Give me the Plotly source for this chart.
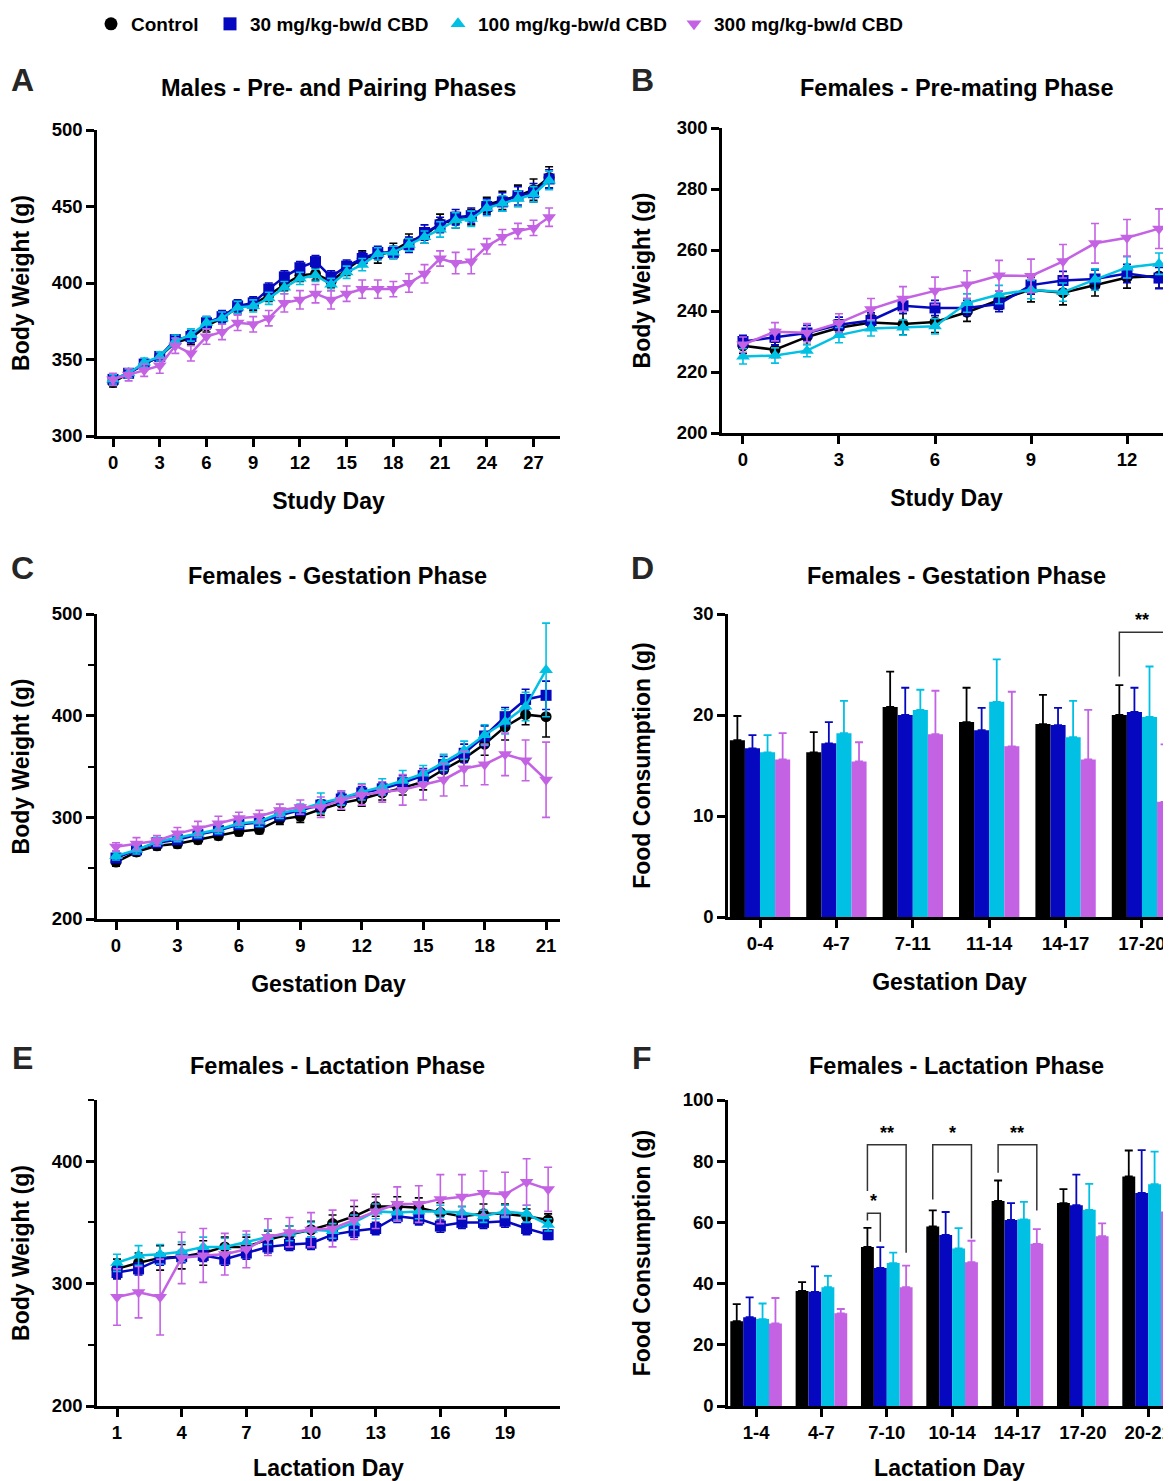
import plotly.graph_objects as go

# The page body has an 8px margin, so the figure is drawn 8px narrower/shorter
OFF = 8
W, H = 1171 - OFF, 1481 - OFF

# ---------------- series names / colours ----------------
groups = ["Control", "30 mg/kg-bw/d CBD", "100 mg/kg-bw/d CBD", "300 mg/kg-bw/d CBD"]
colors = ["#000000", "#0508BE", "#00C0E4", "#C462E4"]
symbols = ["circle", "square", "triangle-up", "triangle-down"]

# ---------------- Panel A: males body weight ----------------
a_days = list(range(0, 29))
a_ctrl = [335, 341, 347, 352, 361, 364, 372, 377, 384, 386, 392, 399, 405, 406, 401, 409, 416, 418, 421, 427, 431, 439, 441, 443, 451, 454, 457, 461, 469]
a_30 = [337, 341, 347, 352, 363, 365, 374, 378, 385, 387, 396, 404, 410, 414, 404, 411, 416, 420, 420, 425, 433, 438, 443, 444, 450, 453, 457, 459, 468]
a_100 = [337, 341, 348, 352, 362, 366, 374, 377, 384, 385, 390, 397, 403, 405, 399, 407, 412, 419, 420, 425, 430, 435, 441, 442, 449, 452, 455, 458, 467]
a_300 = [337, 340, 343, 346, 359, 354, 365, 368, 374, 373, 377, 387, 389, 393, 389, 393, 396, 396, 396, 400, 406, 416, 413, 414, 424, 430, 434, 436, 443]
a_ctrl_e = [3, 3, 3, 3, 3, 4, 4, 4, 4, 4, 4, 4, 4, 4, 4, 4, 5, 5, 5, 5, 5, 6, 5, 5, 5, 6, 7, 7, 7]
a_30_e = [3, 3, 3, 3, 3, 4, 4, 4, 4, 4, 4, 4, 4, 4, 4, 4, 4, 4, 4, 5, 5, 5, 5, 5, 5, 6, 6, 6, 6]
a_100_e = [3, 3, 3, 3, 4, 4, 4, 4, 4, 4, 4, 4, 4, 4, 4, 4, 4, 4, 4, 4, 4, 5, 5, 5, 5, 5, 5, 5, 6]
a_300_e = [4, 4, 4, 5, 5, 5, 5, 5, 5, 5, 5, 6, 6, 6, 6, 5, 6, 6, 5, 6, 6, 5, 7, 8, 5, 5, 5, 5, 6]

# ---------------- Panel B: females pre-mating ----------------
b_days = list(range(0, 14))
b_ctrl = [228.6, 227.3, 231.5, 234.5, 236.2, 235.7, 236.4, 239.6, 243.6, 247.0, 246.0, 248.4, 251.0, 251.5]
b_30 = [230.0, 231.4, 232.8, 235.5, 236.9, 241.7, 241.0, 241.0, 242.3, 248.5, 250.0, 250.5, 252.3, 250.8]
b_100 = [225.1, 225.4, 227.0, 232.1, 234.3, 234.6, 235.0, 242.6, 245.4, 247.0, 246.2, 250.3, 254.3, 255.5]
b_300 = [229.0, 233.2, 232.9, 236.1, 240.6, 244.0, 246.6, 248.7, 251.6, 251.5, 256.3, 262.2, 264.0, 267.0]
b_ctrl_e = [2.5, 2.5, 2.5, 2.5, 2.5, 3.5, 3.5, 3.0, 3.0, 4.0, 4.0, 3.5, 3.5, 4.0]
b_30_e = [2.0, 2.5, 2.5, 2.5, 2.5, 2.5, 2.5, 2.5, 2.5, 3.0, 3.0, 3.0, 3.0, 3.5]
b_100_e = [2.5, 2.5, 2.0, 2.5, 2.5, 2.5, 2.5, 3.0, 3.0, 3.0, 3.0, 3.5, 3.5, 3.5]
b_300_e = [2.5, 3.0, 3.0, 3.0, 3.5, 4.0, 4.5, 4.5, 5.0, 5.5, 5.5, 6.5, 6.0, 6.5]

# ---------------- Panel C: females gestation body weight ----------------
c_days = list(range(0, 22))
c_ctrl = [256, 266, 272, 274, 278, 282, 286, 288, 298, 301, 308, 314, 318, 324, 329, 335, 347, 358, 372, 389, 401, 399]
c_30 = [260, 268, 275, 278, 283, 287, 293, 295, 302, 307, 312, 318, 324, 328, 334, 341, 352, 363, 380, 399, 416, 420]
c_100 = [262, 268, 276, 280, 284, 288, 294, 296, 304, 308, 314, 319, 325, 330, 336, 343, 354, 366, 381, 394, 409, 445]
c_300 = [271, 274, 277, 284, 289, 294, 299, 301, 307, 310, 310, 317, 322, 325, 327, 332, 337, 348, 352, 362, 356, 337]
c_ctrl_e = [4, 4, 4, 4, 4, 4, 4, 4, 5, 6, 6, 7, 7, 7, 7, 8, 8, 9, 11, 13, 10, 20]
c_30_e = [4, 4, 4, 4, 4, 4, 4, 5, 5, 5, 5, 6, 6, 6, 7, 7, 8, 9, 10, 9, 10, 14]
c_100_e = [4, 4, 4, 4, 4, 4, 4, 5, 5, 5, 10, 7, 8, 8, 10, 8, 8, 9, 10, 12, 14, 46]
c_300_e = [4, 6, 5, 6, 7, 7, 6, 6, 6, 7, 10, 9, 10, 10, 15, 15, 16, 17, 20, 21, 20, 37]

# ---------------- Panel D: gestation food consumption ----------------
d_cats = ["0-4", "4-7", "7-11", "11-14", "14-17", "17-20"]
d_ctrl = [17.5, 16.3, 20.8, 19.3, 19.1, 20.0]
d_30 = [16.7, 17.2, 20.0, 18.5, 19.0, 20.3]
d_100 = [16.3, 18.2, 20.5, 21.3, 17.8, 19.8]
d_300 = [15.6, 15.4, 18.1, 16.9, 15.6, 11.4]
d_ctrl_e = [2.4, 2.0, 3.5, 3.4, 2.9, 2.95]
d_30_e = [1.3, 2.1, 2.7, 2.2, 1.7, 2.4]
d_100_e = [1.7, 3.2, 2.0, 4.2, 3.6, 5.0]
d_300_e = [2.6, 1.9, 4.3, 5.4, 4.9, 5.7]
# significance brackets: (category index, left bar, right bar, left foot, top, right foot, label)
d_sig = [(5, 0, 3, 23.8, 28.2, 18.6, "**")]

# ---------------- Panel E: lactation body weight ----------------
e_days = list(range(1, 22))
e_ctrl = [312, 317, 321, 322, 325, 330, 330, 336, 340, 344, 349, 355, 363, 363, 362, 358, 355, 357, 357, 355, 352]
e_30 = [309, 312, 320, 322, 323, 320, 325, 330, 332, 333, 340, 343, 345, 355, 353, 347, 350, 350, 351, 345, 340]
e_100 = [317, 323, 324, 326, 330, 330, 334, 338, 341, 344, 343, 350, 359, 358, 359, 359, 358, 355, 359, 357, 348]
e_300 = [289, 293, 289, 321, 323, 324, 328, 338, 342, 344, 345, 352, 359, 365, 365, 369, 371, 374, 373, 383, 377]
e_ctrl_e = [8, 8, 10, 10, 10, 8, 8, 7, 7, 7, 7, 8, 8, 8, 8, 8, 8, 8, 8, 6, 5]
e_30_e = [5, 5, 5, 5, 5, 5, 5, 5, 5, 5, 5, 5, 5, 5, 5, 5, 5, 5, 5, 5, 4]
e_100_e = [7, 8, 8, 8, 8, 7, 6, 6, 6, 6, 6, 6, 6, 6, 6, 5, 5, 5, 5, 7, 5]
e_300_e = [23, 21, 31, 21, 22, 17, 15, 15, 12, 14, 15, 16, 14, 14, 15, 20, 18, 18, 18, 19, 18]

# ---------------- Panel F: lactation food consumption ----------------
f_cats = ["1-4", "4-7", "7-10", "10-14", "14-17", "17-20", "20-21"]
f_ctrl = [27.7, 37.6, 52.0, 58.7, 67.0, 66.3, 75.0]
f_30 = [29.0, 37.3, 45.1, 55.9, 60.8, 65.6, 69.6]
f_100 = [28.4, 38.8, 46.7, 51.5, 61.0, 64.1, 72.5]
f_300 = [27.0, 30.3, 38.8, 47.0, 53.0, 55.5, 63.6]
f_ctrl_e = [5.6, 2.9, 6.2, 5.2, 6.7, 4.6, 8.5]
f_30_e = [6.5, 8.3, 6.8, 7.5, 5.5, 10.0, 14.0]
f_100_e = [5.1, 3.7, 3.4, 6.6, 5.7, 8.5, 10.6]
f_300_e = [8.3, 1.4, 7.1, 7.0, 4.8, 4.2, 6.1]
f_sig = [(2, 0, 3, 70.3, 85.4, 50.1, "**"),
         (2, 0, 1, 60.6, 63.0, 53.7, "*"),
         (3, 0, 3, 67.5, 85.4, 54.7, "*"),
         (4, 0, 3, 76.2, 85.4, 63.9, "**")]

# ---------------- helpers ----------------
FONT = "Liberation Sans, Arial, Helvetica, sans-serif"


def px_x(p):
    return (p - OFF) / W


def px_y(p):
    return 1 - (p - OFF) / H


fig = go.Figure()


def add_lines(xs, series, errs, xa, ya):
    for i in range(4):
        fig.add_trace(go.Scatter(
            x=xs, y=series[i], mode="lines+markers", xaxis=xa, yaxis=ya,
            line=dict(color=colors[i], width=2.5),
            marker=dict(symbol=symbols[i], size=11 if i < 2 else 12, color=colors[i]),
            error_y=dict(type="data", array=errs[i], visible=True, color=colors[i],
                         thickness=1.6, width=4),
            showlegend=False, name=groups[i]))


def add_bars(n, series, errs, xa, ya):
    for i in range(4):
        fig.add_trace(go.Bar(
            x=list(range(n)), y=series[i], xaxis=xa, yaxis=ya,
            marker=dict(color=colors[i], line=dict(width=0)),
            error_y=dict(type="data", array=errs[i], arrayminus=[0] * n, symmetric=False,
                         visible=True, color=colors[i], thickness=1.8, width=4),
            offsetgroup=str(i), showlegend=False, name=groups[i]))


add_lines(a_days, [a_ctrl, a_30, a_100, a_300], [a_ctrl_e, a_30_e, a_100_e, a_300_e], "x", "y")
add_lines(b_days, [b_ctrl, b_30, b_100, b_300], [b_ctrl_e, b_30_e, b_100_e, b_300_e], "x2", "y2")
add_lines(c_days, [c_ctrl, c_30, c_100, c_300], [c_ctrl_e, c_30_e, c_100_e, c_300_e], "x3", "y3")
add_bars(len(d_cats), [d_ctrl, d_30, d_100, d_300], [d_ctrl_e, d_30_e, d_100_e, d_300_e], "x4", "y4")
add_lines(e_days, [e_ctrl, e_30, e_100, e_300], [e_ctrl_e, e_30_e, e_100_e, e_300_e], "x5", "y5")
add_bars(len(f_cats), [f_ctrl, f_30, f_100, f_300], [f_ctrl_e, f_30_e, f_100_e, f_300_e], "x6", "y6")

# legend-only traces (marker only), one small legend per group so spacing matches
legend_names = ["legend", "legend2", "legend3", "legend4"]
legend_text_x = [131, 250, 478, 714]
for i in range(4):
    fig.add_trace(go.Scatter(x=[None], y=[None], mode="markers", name=groups[i],
                             marker=dict(symbol=symbols[i], size=13, color=colors[i]),
                             xaxis="x", yaxis="y", showlegend=True, legend=legend_names[i]))

BARGAP = 0.21
GROUPW = 1 - BARGAP
BARW = GROUPW / 4


def bar_center(cat, k):
    return cat - GROUPW / 2 + BARW * (k + 0.5)


tickfont = dict(family=FONT, size=18.5, color="black", weight="bold")
titlefont = dict(family=FONT, size=23, color="black", weight="bold")


def xaxis(dom, rng, title, anchor, **kw):
    d = dict(domain=[px_x(dom[0]), px_x(dom[1])], range=rng, anchor=anchor, automargin=False,
             showline=True, linecolor="black", linewidth=2.5, ticks="outside",
             ticklen=8, tickwidth=2.5, tickcolor="black", showgrid=False, zeroline=False,
             ticklabeloverflow="allow",
             tickfont=tickfont, title=dict(text=title, font=titlefont, standoff=21))
    d.update(kw)
    return d


def yaxis(dom, rng, title, anchor, standoff, **kw):
    d = dict(domain=[px_y(dom[1]), px_y(dom[0])], range=rng, anchor=anchor, automargin=False,
             showline=True, linecolor="black", linewidth=2.5, ticks="outside",
             ticklen=8, tickwidth=2.5, tickcolor="black", showgrid=False, zeroline=False,
             tickfont=tickfont, title=dict(text=title, font=titlefont, standoff=standoff))
    d.update(kw)
    return d


minor = dict(ticks="outside", ticklen=6, tickwidth=2, tickcolor="black", dtick=50, showgrid=False)

legend_font = dict(family=FONT, size=19, color="black", weight="bold")
legends = {}
for i, ln in enumerate(legend_names):
    legends[ln] = dict(orientation="h", x=px_x(legend_text_x[i] - 40), y=px_y(24),
                       xanchor="left", yanchor="middle", font=legend_font,
                       itemwidth=30, bgcolor="rgba(0,0,0,0)")

fig.update_layout(
    width=W, height=H, margin=dict(l=0, r=0, t=0, b=0, autoexpand=False),
    paper_bgcolor="white", plot_bgcolor="white",
    font=dict(family=FONT, color="black"),
    barmode="group", bargap=BARGAP, bargroupgap=0,
    showlegend=True,
    xaxis=xaxis((97, 560), [-1.03, 28.7], "Study Day", "y", tick0=0, dtick=3),
    yaxis=yaxis((130, 436), [300, 500], "Body Weight (g)", "x", 20, tick0=300, dtick=50),
    xaxis2=xaxis((722, 1171), [-0.656, 13.375], "Study Day", "y2", tick0=0, dtick=3),
    yaxis2=yaxis((128, 433), [200, 300], "Body Weight (g)", "x2", 20, tick0=200, dtick=20),
    xaxis3=xaxis((97, 560), [-0.928, 21.68], "Gestation Day", "y3", tick0=0, dtick=3),
    yaxis3=yaxis((614, 919), [200, 500], "Body Weight (g)", "x3", 20, tick0=200, dtick=100, minor=minor),
    xaxis4=xaxis((728, 1171), [-0.419, 5.38], "Gestation Day", "y4",
                 tickmode="array", tickvals=list(range(len(d_cats))), ticktext=d_cats),
    yaxis4=yaxis((614, 917), [0, 30], "Food Consumption (g)", "x4", 36, tick0=0, dtick=10),
    xaxis5=xaxis((97, 560), [0.072, 21.55], "Lactation Day", "y5", tick0=1, dtick=3),
    yaxis5=yaxis((1100, 1406), [200, 450], "Body Weight (g)", "x5", 20, tickmode="array",
                 tickvals=[200, 300, 400], minor=dict(ticks="outside", ticklen=6, tickwidth=2,
                                                        tickcolor="black", tickvals=[250, 350, 450])),
    xaxis6=xaxis((728, 1171), [-0.43, 6.35], "Lactation Day", "y6",
                 tickmode="array", tickvals=list(range(len(f_cats))), ticktext=f_cats),
    yaxis6=yaxis((1100, 1406), [0, 100], "Food Consumption (g)", "x6", 26, tick0=0, dtick=20),
    **legends,
)

# panel letters and titles
letters = [("A", 22, 80), ("B", 642, 80), ("C", 22, 568), ("D", 642, 568), ("E", 22, 1058), ("F", 642, 1058)]
for t, x, y in letters:
    fig.add_annotation(text=t, x=px_x(x), y=px_y(y), xref="paper", yref="paper",
                       showarrow=False, xanchor="center", yanchor="middle",
                       font=dict(family=FONT, size=32, color="#262626", weight="bold"))

titles = [("Males - Pre- and Pairing Phases", 338, 88), ("Females - Pre-mating Phase", 956, 88),
          ("Females - Gestation Phase", 337, 576), ("Females - Gestation Phase", 956, 576),
          ("Females - Lactation Phase", 337, 1066), ("Females - Lactation Phase", 956, 1066)]
for t, x, y in titles:
    fig.add_annotation(text=t, x=px_x(x), y=px_y(y), xref="paper", yref="paper",
                       showarrow=False, xanchor="center", yanchor="middle",
                       font=dict(family=FONT, size=23.5, color="black", weight="bold"))


def add_sig(sigs, xa, ya):
    for cat, k0, k1, yl, ytop, yr, lab in sigs:
        x0 = bar_center(cat, k0)
        x1 = bar_center(cat, k1)
        fig.add_shape(type="path", xref=xa, yref=ya,
                      path=f"M {x0} {yl} L {x0} {ytop} L {x1} {ytop} L {x1} {yr}",
                      line=dict(color="#333333", width=1.5))
        fig.add_annotation(text=lab, x=(x0 + x1) / 2, y=ytop, xref=xa, yref=ya,
                           showarrow=False, xanchor="center", yanchor="bottom", yshift=0,
                           font=dict(family=FONT, size=18, color="black", weight="bold"))


add_sig(d_sig, "x4", "y4")
add_sig(f_sig, "x6", "y6")

fig.write_html("out.html")
